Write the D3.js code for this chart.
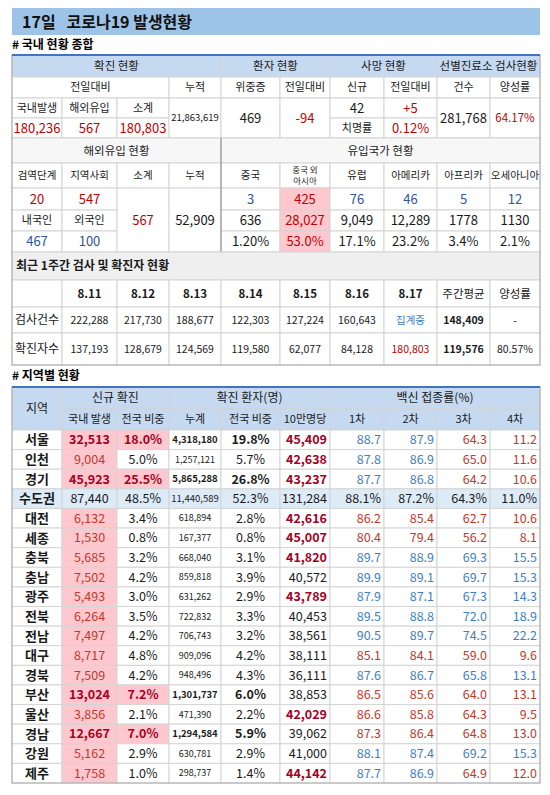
<!DOCTYPE html>
<html><head><meta charset="utf-8">
<script src="https://cdn.jsdelivr.net/npm/d3@7"></script>
<style>body{margin:0;background:#fff}text{font-family:"Noto Sans CJK KR","Noto Sans",sans-serif}</style>
</head><body><svg id="c" width="550" height="795"></svg>
<script>
// ---- data ----
const colEdges=[12,62,117,169,221,280,330,384,437,490,540];
const titleText="17일   코로나19 발생현황";
const topHead1=[["확진 현황",0,4],["환자 현황",4,6],["사망 현황",6,8],["선별진료소 검사현황",8,10]];
const topHead2=["전일대비","누적","위중증","전일대비","신규","전일대비","건수","양성률"];
const domLabels=["국내발생","해외유입","소계"];
const domValues=["180,236","567","180,803"];
const cumTotal="21,863,619", critical="469", criticalDiff="-94", deathsNew="42", deathsDiff="+5", fatality="0.12%", testsCount="281,768", positiveRate="64.17%";
const importLabels=["검역단계","지역사회","소계","누적","중국","중국 외|아시아","유럽","아메리카","아프리카","오세아니아"];
const importStage=["20","547"], importNat=["467","100"], importSub="567", importCum="52,909";
const countryNew=["3","425","76","46","5","12"];
const countryCum=["636","28,027","9,049","12,289","1778","1130"];
const countryPct=["1.20%","53.0%","17.1%","23.2%","3.4%","2.1%"];
const weekDates=["8.11","8.12","8.13","8.14","8.15","8.16","8.17","주간평균","양성률"];
const weekTests=["222,288","217,730","188,677","122,303","127,224","160,643","집계중","148,409","-"];
const weekCases=["137,193","128,679","124,569","119,580","62,077","84,128","180,803","119,576","80.57%"];
const regions=["서울","인천","경기","수도권","대전","세종","충북","충남","광주","전북","전남","대구","경북","부산","울산","경남","강원","제주"];
const regNew=["32,513","9,004","45,923","87,440","6,132","1,530","5,685","7,502","5,493","6,264","7,497","8,717","7,509","13,024","3,856","12,667","5,162","1,758"];
const regNewPct=["18.0%","5.0%","25.5%","48.5%","3.4%","0.8%","3.2%","4.2%","3.0%","3.5%","4.2%","4.8%","4.2%","7.2%","2.1%","7.0%","2.9%","1.0%"];
const regCum=["4,318,180","1,257,121","5,865,288","11,440,589","618,894","167,377","668,040","859,818","631,262","722,832","706,743","909,096","948,496","1,301,737","471,390","1,294,584","630,781","298,737"];
const regCumPct=["19.8%","5.7%","26.8%","52.3%","2.8%","0.8%","3.1%","3.9%","2.9%","3.3%","3.2%","4.2%","4.3%","6.0%","2.2%","5.9%","2.9%","1.4%"];
const regPer100k=["45,409","42,638","43,237","131,284","42,616","45,007","41,820","40,572","43,789","40,453","38,561","38,111","36,111","38,853","42,029","39,062","41,000","44,142"];
const vac1=["88.7","87.8","87.7","88.1%","86.2","80.4","89.7","89.9","87.9","89.5","90.5","85.1","87.6","86.5","86.6","87.3","88.1","87.7"];
const vac2=["87.9","86.9","86.8","87.2%","85.4","79.4","88.9","89.1","87.1","88.8","89.7","84.1","86.7","85.6","85.8","86.4","87.4","86.9"];
const vac3=["64.3","65.0","64.2","64.3%","62.7","56.2","69.3","69.7","67.3","72.0","74.5","59.0","65.8","64.0","64.3","64.8","69.2","64.9"];
const vac4=["11.2","11.6","10.6","11.0%","10.6","8.1","15.5","15.3","14.3","18.9","22.2","9.6","13.1","13.1","9.5","13.0","15.3","12.0"];
const vacColors=["bbrr","bbrr","bbrr","kkkk","rrrr","rrrr","bbbb","bbbb","bbbb","bbbb","bbbb","rrrr","bbbb","rrrr","rrrr","rrrr","bbbb","bbrr"];
const bigRegions=["서울","경기","부산","경남"];

// ---- style ----
const C={blueBand:"#9dc3e6",head:"#c5d9f1",gray:"#efefef",pink:"#ffc7ce",light:"#ddebf7",grid:"#d4d4d4",red:"#c00000",dred:"#a50021",blue:"#2f5597",vb:"#3f7fbf",vr:"#c0392b",txt:"#1a1a1a"};
const svg=d3.select("#c");
const x=d3.scaleLinear().domain(d3.range(11)).range(colEdges);
function rect(c0,c1,y0,y1,fill){svg.append("rect").attr("x",x(c0)).attr("y",y0).attr("width",x(c1)-x(c0)).attr("height",y1-y0).attr("fill",fill||"none").attr("stroke",C.grid).attr("stroke-width",1);}
function txt(c0,c1,y0,y1,s,o={}){
  const lines=String(s).split("|"),fs=o.fs||13,anchor=o.anchor||"middle";
  let tx=anchor==="middle"?(x(c0)+x(c1))/2:anchor==="end"?x(c1)-(o.pad||3):x(c0)+(o.pad||4);
  const cy=(y0+y1)/2,lh=fs*1.3;
  lines.forEach((l,i)=>svg.append("text").attr("x",tx).attr("y",cy+(i-(lines.length-1)/2)*lh).attr("dy","0.36em")
    .attr("text-anchor",anchor).attr("font-size",fs).attr("font-weight",o.bold?"bold":"normal").attr("fill",o.color||C.txt).text(l));
}
function cell(c0,c1,y0,y1,s,o={}){rect(c0,c1,y0,y1,o.fill||"#fff");if(s!==""&&s!=null)txt(c0,c1,y0,y1,s,o);}

// title
svg.append("rect").attr("x",12).attr("y",8).attr("width",528).attr("height",27).attr("fill",C.blueBand);
svg.append("text").attr("x",22).attr("y",22).attr("dy","0.36em").attr("font-size",16).attr("font-weight","bold").attr("fill","#111").attr("xml:space","preserve").text(titleText);
svg.append("text").attr("x",12).attr("y",45).attr("dy","0.36em").attr("font-size",12).attr("font-weight","bold").text("# 국내 현황 종합");

// top table
const T=[55,77,98,118,138];
topHead1.forEach(h=>cell(h[1],h[2],T[0],T[1],h[0],{fill:C.head,fs:11.5}));
cell(0,3,T[1],T[2],topHead2[0],{fs:11});
topHead2.slice(1).forEach((h,i)=>cell(i+3,i+4,T[1],T[2],h,{fs:11}));
domLabels.forEach((l,i)=>cell(i,i+1,T[2],T[3],l,{fs:11}));
domValues.forEach((v,i)=>cell(i,i+1,T[3],T[4],v,{fs:13,color:C.red}));
cell(3,4,T[2],T[4],cumTotal,{fs:9.5});
cell(4,5,T[2],T[4],critical,{fs:13});
cell(5,6,T[2],T[4],criticalDiff,{fs:13,color:C.red});
cell(6,7,T[2],T[3],deathsNew,{fs:13});
cell(7,8,T[2],T[3],deathsDiff,{fs:13,color:C.red});
cell(6,7,T[3],T[4],"치명률",{fs:11});
cell(7,8,T[3],T[4],fatality,{fs:13,color:C.red});
cell(8,9,T[2],T[4],testsCount,{fs:13});
cell(9,10,T[2],T[4],positiveRate,{fs:11.5,color:C.red});

// import table
const I=[138,163,188,210,231,252];
cell(0,4,I[0],I[1],"해외유입 현황",{fill:"#f7f7f7",fs:11.5});
cell(4,10,I[0],I[1],"유입국가 현황",{fill:"#f7f7f7",fs:11.5});
importLabels.forEach((l,i)=>cell(i,i+1,I[1],I[2],l,{fs:l.includes("|")?8.5:10.5}));
cell(0,1,I[2],I[3],importStage[0],{color:C.red,fs:13});
cell(1,2,I[2],I[3],importStage[1],{color:C.red,fs:13});
cell(0,1,I[3],I[4],"내국인",{fs:11});
cell(1,2,I[3],I[4],"외국인",{fs:11});
cell(0,1,I[4],I[5],importNat[0],{color:C.blue,fs:13});
cell(1,2,I[4],I[5],importNat[1],{color:C.blue,fs:13});
cell(2,3,I[2],I[5],importSub,{color:C.red,fs:13});
cell(3,4,I[2],I[5],importCum,{fs:13});
[countryNew,countryCum,countryPct].forEach((arr,r)=>arr.forEach((v,i)=>{
  const hi=i===1;
  cell(i+4,i+5,I[2+r],I[3+r],v,{fs:13,fill:hi?C.pink:"#fff",color:hi?C.red:(r===0?C.blue:C.txt)});
}));
svg.append("line").attr("x1",x(4)).attr("x2",x(4)).attr("y1",I[0]).attr("y2",I[5]).attr("stroke","#888");

// weekly table
const W=[252,280,307,333,365];
cell(0,10,W[0],W[1],"최근 1주간 검사 및 확진자 현황",{fill:C.gray,anchor:"start",fs:12,bold:true});
cell(0,1,W[1],W[2],"");
weekDates.forEach((d,i)=>cell(i+1,i+2,W[1],W[2],d,{fs:11.5,bold:i<7}));
cell(0,1,W[2],W[3],"검사건수",{fs:12});
cell(0,1,W[3],W[4],"확진자수",{fs:12});
weekTests.forEach((v,i)=>cell(i+1,i+2,W[2],W[3],v,{fs:10.5,color:i===6?C.vb:C.txt,bold:i===7}));
weekCases.forEach((v,i)=>cell(i+1,i+2,W[3],W[4],v,{fs:10.5,color:i===6?C.red:C.txt,bold:i===7}));
svg.append("rect").attr("x",12).attr("y",55).attr("width",528).attr("height",310).attr("fill","none").attr("stroke","#aaa");
svg.append("line").attr("x1",12).attr("x2",540).attr("y1",55).attr("y2",55).attr("stroke","#4472c4").attr("stroke-width",2);

// region table
svg.append("text").attr("x",12).attr("y",376).attr("dy","0.36em").attr("font-size",12).attr("font-weight","bold").text("# 지역별 현황");
const R0=387,R1=409,R2=430,Rend=783;
const y=d3.scaleBand().domain(regions).range([R2,Rend]);
cell(0,1,R0,R2,"지역",{fill:C.head,fs:12});
cell(1,3,R0,R1,"신규 확진",{fill:C.head,fs:12});
cell(3,6,R0,R1,"확진 환자(명)",{fill:C.head,fs:12});
cell(6,10,R0,R1,"백신 접종률(%)",{fill:C.head,fs:12});
["국내 발생","전국 비중","누계","전국 비중","10만명당","1차","2차","3차","4차"].forEach((h,i)=>cell(i+1,i+2,R1,R2,h,{fill:C.head,fs:11}));
regions.forEach((r,i)=>{
  const y0=y(r),y1=y0+y.bandwidth(),sum=r==="수도권",big=bigRegions.includes(r);
  const rowFill=sum?C.light:"#fff";
  const kc=sum?C.txt:null;
  cell(0,1,y0,y1,r,{fill:rowFill,bold:true,fs:13});
  cell(1,2,y0,y1,regNew[i],{fill:sum?rowFill:C.pink,color:kc||(big?C.dred:C.vr),bold:big,fs:12.5});
  cell(2,3,y0,y1,regNewPct[i],{fill:big?C.pink:rowFill,color:kc||(big?C.dred:C.txt),bold:big,fs:12.5});
  cell(3,4,y0,y1,regCum[i],{fill:rowFill,bold:big,fs:big||sum?9.5:9});
  cell(4,5,y0,y1,regCumPct[i],{fill:rowFill,bold:big,fs:12.5});
  const hot=!sum&&+regPer100k[i].replace(/,/g,"")>41500;
  cell(5,6,y0,y1,regPer100k[i],{fill:rowFill,color:hot?C.dred:C.txt,bold:hot,fs:12.5,anchor:"end"});
  [vac1,vac2,vac3,vac4].forEach((a,k)=>{
    const cc=vacColors[i][k];
    cell(6+k,7+k,y0,y1,a[i],{fill:rowFill,fs:12.5,anchor:"end",color:cc==="b"?C.vb:cc==="r"?C.vr:C.txt});
  });
});
svg.append("rect").attr("x",12).attr("y",R0).attr("width",528).attr("height",Rend-R0).attr("fill","none").attr("stroke","#aaa");
svg.append("line").attr("x1",12).attr("x2",540).attr("y1",R0).attr("y2",R0).attr("stroke","#4472c4").attr("stroke-width",2);
</script></body></html>
